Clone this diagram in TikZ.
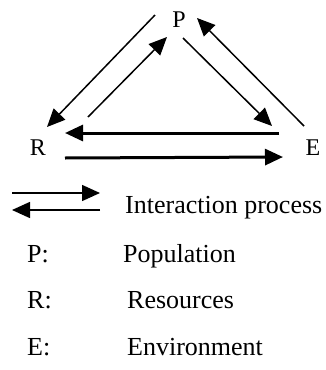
\documentclass[tikz,border=0pt]{standalone}
\usepackage{fontspec}
\setmainfont{Liberation Serif}
\usetikzlibrary{arrows.meta}

\begin{document}
\begin{tikzpicture}[x=1pt,y=-1pt,
                    lbl/.style={font=\fontsize{24}{28}\selectfont,inner sep=0pt},
                    key/.style={font=\fontsize{26}{30}\selectfont,inner sep=0pt,anchor=base west},
                    flow/.style={-{Triangle[length=18pt,width=16pt]},line width=1.5pt},
                    bigflow/.style={flow,line width=3pt}]
            \useasboundingbox (0,0) rectangle (325,370);
            \node[lbl] (P) at (179,20) {P};
            \node[lbl] (R) at (38,148) {R};
            \node[lbl] (E) at (313,148) {E};
            \draw[flow] ([shift={(-24,-5)}]P.center) -- ([shift={(9,-21)}]R.center);
            \draw[flow] ([shift={(50,-31)}]R.center) -- ([shift={(-12,17)}]P.center);
            \draw[flow] ([shift={(4,18)}]P.center) -- ([shift={(-41,-22)}]E.center);
            \draw[flow] ([shift={(-9,-22)}]E.center) -- ([shift={(18,-2)}]P.center);
            \draw[bigflow] ([shift={(-34,-15)}]E.center) -- ([shift={(27,-15)}]R.center);
            \draw[bigflow] ([shift={(27,10)}]R.center) -- ([shift={(-30,9)}]E.center);
            \node[key] (ip) at (125,213) {Interaction process};
            \draw[flow] ([shift={(-113,-20)}]ip.base west) -- ([shift={(-25,-20)}]ip.base west);
            \draw[flow] ([shift={(-25,-3)}]ip.base west) -- ([shift={(-113,-3)}]ip.base west);
            \node[key] (kp) at (27,262) {P:};
            \node[key] (pop) at (123,262) {Population};
            \node[key] (kr) at (27,308) {R:};
            \node[key] (res) at (127,308) {Resources};
            \node[key] (ke) at (27,355) {E:};
            \node[key] (env) at (127,355) {Environment};
        \end{tikzpicture}
\end{document}
